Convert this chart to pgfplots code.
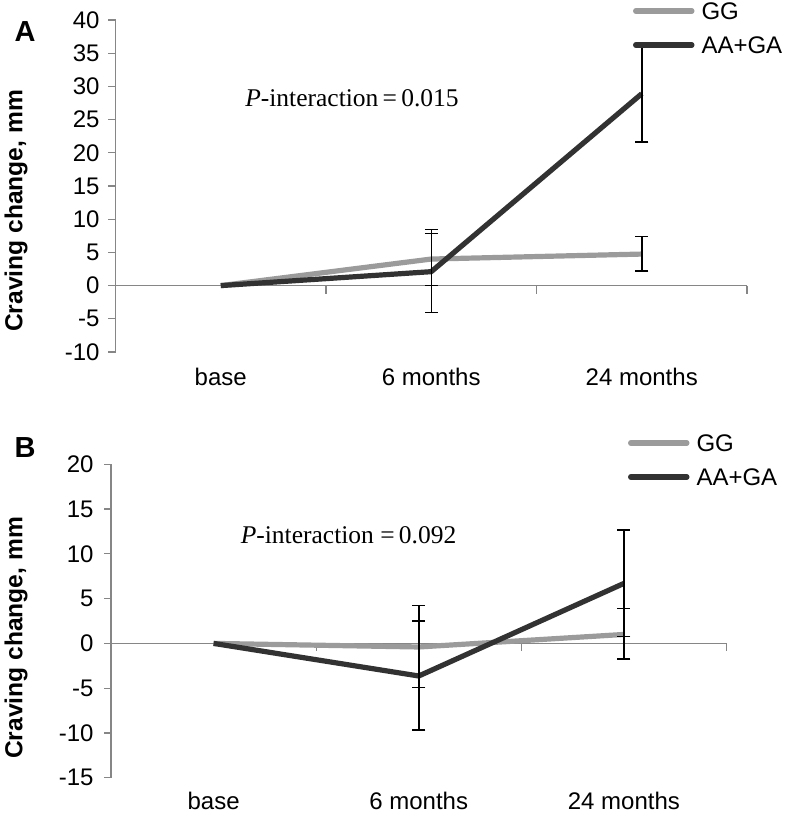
\documentclass[border=0pt]{standalone}
\usepackage{fontspec}
\setmainfont{Liberation Sans}
\newfontfamily\timesf{Liberation Serif}
\usepackage{pgfplots}
\pgfplotsset{compat=1.18}
\definecolor{ggc}{RGB}{155,155,155}
\definecolor{aac}{RGB}{50,50,50}
\definecolor{axc}{RGB}{134,134,134}
\newcommand\tl{\fontsize{24}{28}\selectfont}
\tikzset{
  ylab/.style={font=\bfseries\fontsize{24.6}{28}\selectfont, rotate=90},
  ptxt/.style={font=\timesf\fontsize{25.5}{29}\selectfont},
}
\pgfplotsset{
  panel/.style={
    scale only axis, anchor=south west, clip=false,
    xmin=-0.5, xmax=2.5,
    axis lines*=left,
    x axis line style={draw=none},
    y axis line style={axc, line width=1.2pt},
    xtick={0,1,2}, xticklabels={base,6 months,24 months},
    xtick style={draw=none},
    ytick style={axc, line width=1.2pt},
    tick align=outside, major tick length=7pt,
    ticklabel style={font=\tl, text=black},
    legend cell align=left,
    legend style={draw=none, fill=none, inner sep=0pt, outer sep=0pt,
      row sep=16.8pt, column sep=7pt, font=\tl, anchor=north west,
      nodes={inner sep=0pt, text height=17.2pt, text depth=0pt}},
    legend image code/.code={\draw[##1, line width=5.5pt, line cap=round] (3pt,0pt) -- (59pt,0pt);},
  },
  ebar/.style={draw=none, forget plot,
    error bars/.cd, y dir=both, y explicit,
    error bar style={draw=black, line width=1.5pt},
    error mark options={draw=black, line width=1.5pt, mark size=6.5pt, rotate=90}},
  ggline/.style={ggc, line width=5.2pt, line join=round},
  aaline/.style={aac, line width=5.2pt, line join=round},
}
\begin{document}
\begin{tikzpicture}
\path[use as bounding box] (0,0) rectangle (789pt,-817pt);
% ---------- Panel A ----------
\begin{axis}[panel, at={(115.5pt,-352pt)}, width=631.5pt, height=332pt,
  ymin=-10, ymax=40, ytick={-10,-5,0,5,10,15,20,25,30,35,40},
  yticklabels={-10,-5,0,5,10,15,20,25,30,35,40},
  yticklabel style={xshift=-5.5pt}, xticklabel style={yshift=-6pt},
  legend style={at={(rel axis cs:0.8195,1)}, yshift=17.6pt}]
\draw[axc, line width=1.2pt] (axis cs:-0.5,0) -- (axis cs:2.5,0);
\draw[axc, line width=1.2pt] (axis cs:0.5,0) -- ++(0pt,-8pt);
\draw[axc, line width=1.2pt] (axis cs:1.5,0) -- ++(0pt,-8pt);
\draw[axc, line width=1.2pt] (axis cs:2.5,0) -- ++(0pt,-8pt);
\addplot[ggline] coordinates {(0,0) (1,4.0) (2,4.75)};
\addlegendentry{GG}
\addplot[aaline] coordinates {(0,0) (1,2.1) (2,28.9)};
\addlegendentry{AA+GA}
\addplot[ebar] coordinates {(1,3.94) +- (0,3.94) (2,4.78) +- (0,2.58)};
\addplot[ebar] coordinates {(1,2.2) +- (0,6.28) (2,28.85) +- (0,7.25)};
\node[ptxt] at (rel axis cs:0.3745,0.765) {\textit{P}-interaction\,=\,0.015};
\node[ylab] at (rel axis cs:-0.1575,0.4247) {Craving change, mm};
\node[font=\bfseries\fontsize{29}{32}\selectfont] at (rel axis cs:-0.1433,0.964) {A};
\end{axis}
% ---------- Panel B ----------
\begin{axis}[panel, at={(111pt,-777.7pt)}, width=615.5pt, height=313.4pt,
  ymin=-15, ymax=20, ytick={-15,-10,-5,0,5,10,15,20},
  yticklabels={-15,-10,-5,0,5,10,15,20},
  yticklabel style={xshift=-7pt}, xticklabel style={yshift=-4.3pt},
  legend style={at={(rel axis cs:0.84,1)}, yshift=29.9pt}]
\draw[axc, line width=1.2pt] (axis cs:-0.5,0) -- (axis cs:2.5,0);
\draw[axc, line width=1.2pt] (axis cs:0.5,0) -- ++(0pt,-8pt);
\draw[axc, line width=1.2pt] (axis cs:1.5,0) -- ++(0pt,-8pt);
\draw[axc, line width=1.2pt] (axis cs:2.5,0) -- ++(0pt,-8pt);
\addplot[ggline] coordinates {(0,0) (1,-0.4) (2,1.0)};
\addlegendentry{GG}
\addplot[aaline] coordinates {(0,0) (1,-3.64) (2,6.7)};
\addlegendentry{AA+GA}
\addplot[ebar] coordinates {(1,-0.35) +- (0,4.6) (2,1.05) +- (0,2.82)};
\addplot[ebar] coordinates {(1,-3.58) +- (0,6.08) (2,6.7) +- (0,5.95)};
\node[ptxt] at (rel axis cs:0.386,0.774) {\textit{P}-interaction =\,0.092};
\node[ylab] at (rel axis cs:-0.1543,0.4458) {Craving change, mm};
\node[font=\bfseries\fontsize{29}{32}\selectfont] at (rel axis cs:-0.1397,1.055) {B};
\end{axis}
\end{tikzpicture}
\end{document}
